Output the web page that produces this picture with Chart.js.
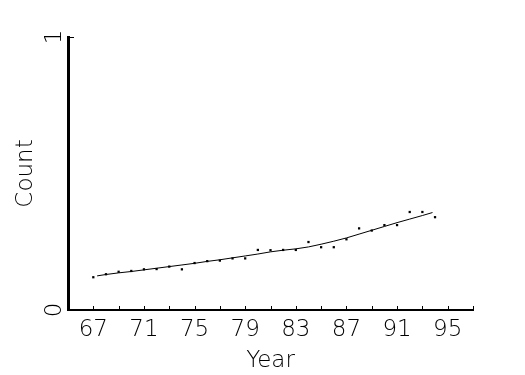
<!DOCTYPE html>
<html>
<head>
<meta charset="utf-8">
<script src="https://cdn.jsdelivr.net/npm/chart.js@4"></script>
<style>
  html, body { margin: 0; padding: 0; background: #fff; }
  #wrap { width: 525px; height: 375px; }
</style>
</head>
<body>
<div id="wrap"><canvas id="chart" width="525" height="375"></canvas></div>
<script>
// observed counts per year
const years = [67, 68, 69, 70, 71, 72, 73, 74, 75, 76, 77, 78, 79, 80,
  81, 82, 83, 84, 85, 86, 87, 88, 89, 90, 91, 92, 93, 94];
const counts = [0.120, 0.131, 0.140, 0.143, 0.149, 0.150, 0.159, 0.149, 0.172, 0.179,
  0.181, 0.189, 0.189, 0.220, 0.219, 0.220, 0.220, 0.249, 0.230, 0.230,
  0.259, 0.299, 0.291, 0.311, 0.311, 0.359, 0.359, 0.340];

// smoothed curve
const fitYears = [67.3, 68, 69, 70, 71, 72, 73, 74, 75, 76, 77, 78, 79, 80,
  81, 82, 83, 84, 85, 86, 87, 88, 89, 90, 91, 92, 93, 93.8];
const fitCounts = [0.125, 0.130, 0.136, 0.141, 0.147, 0.153, 0.159, 0.165, 0.171, 0.178,
  0.184, 0.191, 0.198, 0.205, 0.213, 0.219, 0.224, 0.231, 0.241, 0.252,
  0.264, 0.278, 0.292, 0.306, 0.320, 0.333, 0.346, 0.357];

const xTickLabels = [67, 71, 75, 79, 83, 87, 91, 95];
const yTickLabels = [0, 1];

const FONT = 'DejaVu Sans';

// ticks point into the plot, so draw them here
const inwardTicks = {
  id: 'inwardTicks',
  afterDraw(chart) {
    const ctx = chart.ctx;
    const x = chart.scales.x, y = chart.scales.y;
    ctx.save();
    ctx.strokeStyle = '#000';
    ctx.lineWidth = 1;
    ctx.beginPath();
    x.ticks.forEach(t => {
      const px = Math.round(x.getPixelForValue(t.value)) + 0.5;
      ctx.moveTo(px, y.bottom);
      ctx.lineTo(px, y.bottom - 4);
    });
    const py = Math.round(y.getPixelForValue(1)) + 0.5;
    ctx.moveTo(x.left, py);
    ctx.lineTo(x.left + 6, py);
    ctx.stroke();
    ctx.restore();
  }
};

new Chart(document.getElementById('chart'), {
  type: 'scatter',
  data: {
    datasets: [
      {
        type: 'line',
        data: fitYears.map((v, i) => ({ x: v, y: fitCounts[i] })),
        borderColor: '#000',
        borderWidth: 1,
        pointRadius: 0,
        tension: 0,
        fill: false
      },
      {
        data: years.map((v, i) => ({ x: v, y: counts[i] })),
        pointStyle: 'rect',
        pointRadius: 1.6,
        backgroundColor: '#000',
        borderColor: '#000',
        borderWidth: 0
      }
    ]
  },
  options: {
    responsive: false,
    animation: false,
    layout: { padding: { top: 37, right: 52, left: 0, bottom: 0 } },
    plugins: { legend: { display: false }, tooltip: { enabled: false } },
    scales: {
      x: {
        type: 'linear',
        min: 65,
        max: 97,
        afterFit(s) { s.height = 65; },
        border: { display: true, color: '#000', width: 2 },
        grid: { display: false, drawTicks: false },
        ticks: {
          stepSize: 2,
          padding: 6,
          maxRotation: 0,
          autoSkip: false,
          color: '#000',
          font: { family: FONT, size: 23, weight: 200 },
          callback: v => xTickLabels.includes(v) ? String(v) : ''
        },
        title: {
          display: true,
          text: 'Year',
          color: '#000',
          padding: { top: 0, bottom: 0 },
          font: { family: FONT, size: 23, weight: 200 }
        }
      },
      y: {
        type: 'linear',
        min: 0,
        max: 1,
        afterFit(s) { s.width = 68; },
        border: { display: true, color: '#000', width: 3 },
        grid: { display: false, drawTicks: false },
        ticks: {
          stepSize: 1,
          padding: 6,
          minRotation: 90,
          maxRotation: 90,
          crossAlign: 'center',
          align: 'center',
          color: '#000',
          font: { family: FONT, size: 23, weight: 200 },
          callback: v => yTickLabels.includes(v) ? String(v) : ''
        },
        title: {
          display: true,
          text: 'Count',
          color: '#000',
          padding: { top: 12, bottom: 0 },
          font: { family: FONT, size: 23, weight: 200 }
        }
      }
    }
  },
  plugins: [inwardTicks]
});
</script>
</body>
</html>
